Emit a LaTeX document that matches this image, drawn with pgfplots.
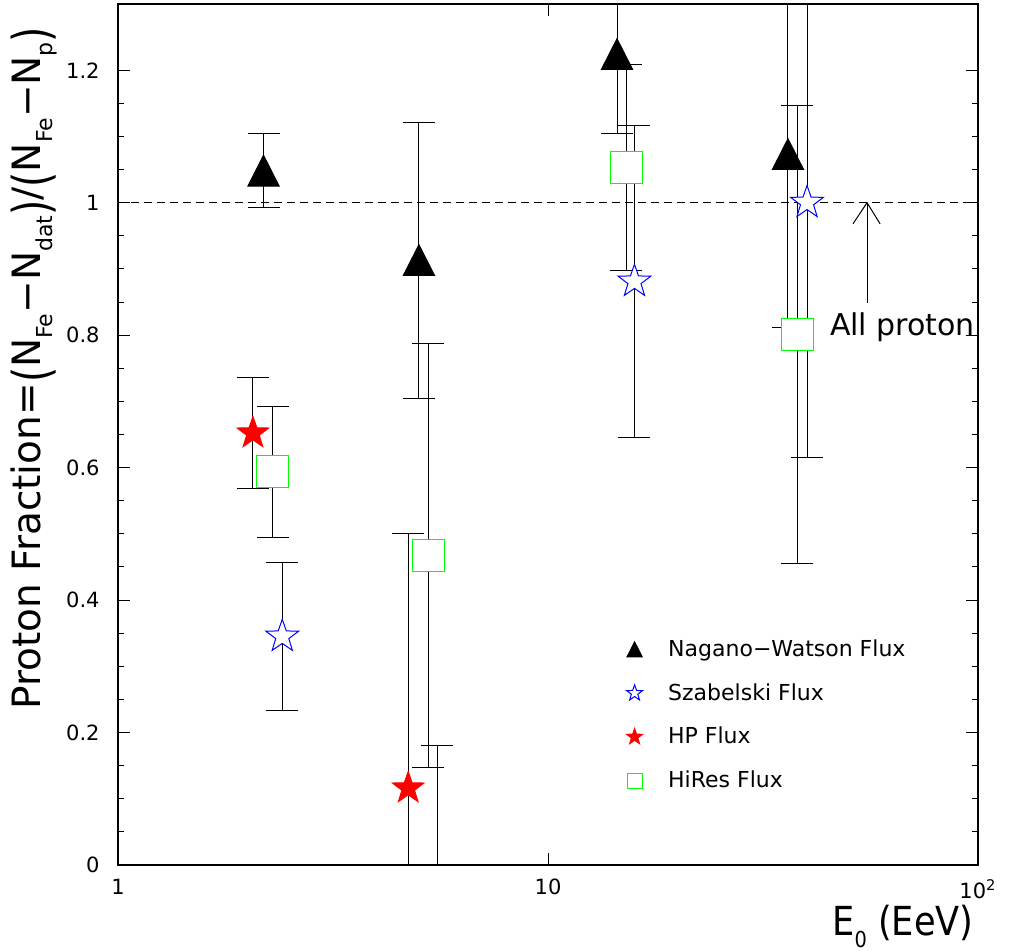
\documentclass[border=0pt]{standalone}
\usepackage{fontspec}
\setmainfont{DejaVu Sans}
\usepackage{pgfplots}
\pgfplotsset{compat=1.18}
\usetikzlibrary{plotmarks}

\pgfdeclareplotmark{pstar}{%
  \pgfpathmoveto{\pgfpointpolar{90}{\pgfplotmarksize}}%
  \pgfpathlineto{\pgfpointpolar{126}{0.40\pgfplotmarksize}}%
  \pgfpathlineto{\pgfpointpolar{162}{\pgfplotmarksize}}%
  \pgfpathlineto{\pgfpointpolar{198}{0.40\pgfplotmarksize}}%
  \pgfpathlineto{\pgfpointpolar{234}{\pgfplotmarksize}}%
  \pgfpathlineto{\pgfpointpolar{270}{0.40\pgfplotmarksize}}%
  \pgfpathlineto{\pgfpointpolar{306}{\pgfplotmarksize}}%
  \pgfpathlineto{\pgfpointpolar{342}{0.40\pgfplotmarksize}}%
  \pgfpathlineto{\pgfpointpolar{18}{\pgfplotmarksize}}%
  \pgfpathlineto{\pgfpointpolar{54}{0.40\pgfplotmarksize}}%
  \pgfpathclose
  \pgfusepathqfillstroke
}
\pgfdeclareplotmark{rtri}{%
  \pgfpathmoveto{\pgfpoint{0pt}{\pgfplotmarksize}}%
  \pgfpathlineto{\pgfpoint{-\pgfplotmarksize}{-0.97\pgfplotmarksize}}%
  \pgfpathlineto{\pgfpoint{\pgfplotmarksize}{-0.97\pgfplotmarksize}}%
  \pgfpathclose
  \pgfusepathqfillstroke
}

\newcommand{\sub}[1]{\raisebox{-0.3em}{\fontsize{11}{11}\selectfont #1}}
\newcommand{\tp}[1]{\raisebox{-0.22em}{\scalebox{1}[1.3]{#1}}}

\pgfplotsset{
  ebar/.style={error bars/.cd, y dir=both, y explicit,
    error bar style={black, line width=0.5pt},
    error mark options={rotate=90, black, mark size=8pt, line width=0.5pt}},
  leg/.style={legend image code/.code={\draw[mark size=#1] plot coordinates {(0pt,0pt)};}},
}

\begin{document}
\begin{tikzpicture}
\path[use as bounding box] (0,0) rectangle (505.5pt,475.5pt);
\begin{axis}[
  at={(59pt,43pt)}, anchor=south west,
  scale only axis, width=430pt, height=430.5pt,
  xmode=log, log basis x=10,
  xmin=1, xmax=100, ymin=0, ymax=1.3,
  xtick={1,10,100}, xticklabels={1,10,10\textsuperscript{2}},
  ytick={0,0.2,0.4,0.6,0.8,1,1.2},
  minor y tick num=3,
  axis line style={black, line width=0.6pt},
  tick style={black, line width=0.5pt},
  major tick length=6pt, minor tick length=3pt,
  /pgf/number format/assume math mode=true,
  yticklabel style={font=\fontsize{10.5}{10.5}\selectfont, inner sep=0pt, anchor=east, xshift=-9pt},
  xticklabel style={font=\fontsize{10.5}{10.5}\selectfont, inner sep=0pt, anchor=north, yshift=-7pt},
  ylabel={\fontsize{19.5}{19.5}\selectfont Proton Fraction=\tp{(}N\sub{Fe}−N\sub{dat}\tp{)}/\tp{(}N\sub{Fe}−N\sub{p}\tp{)}},
  ylabel style={at={(rel axis cs:0,0.577)}, anchor=center, yshift=42pt, inner sep=0pt},
  xlabel={\scalebox{0.88}[1]{\fontsize{20}{20}\selectfont E\sub{0} (EeV)}},
  xlabel style={at={(rel axis cs:1,0)}, anchor=north east, inner sep=0pt, yshift=-20pt, xshift=-2pt},
  legend cell align=left,
  legend style={draw=none, fill=none, at={(0.5914,0.2664)}, anchor=north west,
    inner sep=0pt, outer sep=0pt, row sep=8pt, column sep=10.8pt,
    font=\fontsize{11}{11}\selectfont},
  clip=true,
]
\addplot[only marks, mark=rtri, mark size=7.8pt, black, mark options={fill=black, draw=black, line width=0.5pt}, leg=3.8pt, ebar]
  table[x=x, y=y, y error=e] {
x y e
2.18 1.048 0.056
5.01 0.913 0.208
14.47 1.224 0.120
36.15 1.073 0.262
};
\addlegendentry{Nagano−Watson Flux}
\addplot[only marks, mark=pstar, mark size=8.6pt, blue, mark options={fill=white, draw=blue, line width=0.5pt}, leg=4.2pt, ebar]
  table[x=x, y=y, y error=e] {
x y e
2.41 0.345 0.112
5.52 -0.150 0.330
15.89 0.881 0.236
40.03 1.000 0.385
};
\addlegendentry{Szabelski Flux}
\addplot[only marks, mark=pstar, mark size=8.3pt, red, mark options={fill=red, draw=red, line width=0.5pt}, leg=4.2pt, ebar]
  table[x=x, y=y, y error=e] {
x y e
2.06 0.652 0.084
4.73 0.116 0.384
};
\addlegendentry{HP Flux}
\addplot[only marks, mark=square*, mark size=8pt, green, mark options={fill=white, draw=green, line width=0.5pt}, leg=3.8pt, ebar]
  table[x=x, y=y, y error=e] {
x y e
2.29 0.594 0.099
5.27 0.4675 0.320
15.19 1.053 0.156
38.04 0.801 0.346
};
\addlegendentry{HiRes Flux}
\addplot[forget plot, black, line width=0.6pt, dash pattern=on 4pt off 2.5pt] coordinates {(1,1) (100,1)};
\addplot[forget plot, black, line width=0.5pt] coordinates {(55.2,0.849) (55.2,1.0)};
\addplot[forget plot, black, line width=0.5pt] coordinates {(51.2,0.968) (55.2,1.0) (59.2,0.968)};
\node[font=\fontsize{15}{15}\selectfont, anchor=center, inner sep=0pt] at (axis cs:66.75,0.812) {All proton};
\end{axis}
\end{tikzpicture}
\end{document}
